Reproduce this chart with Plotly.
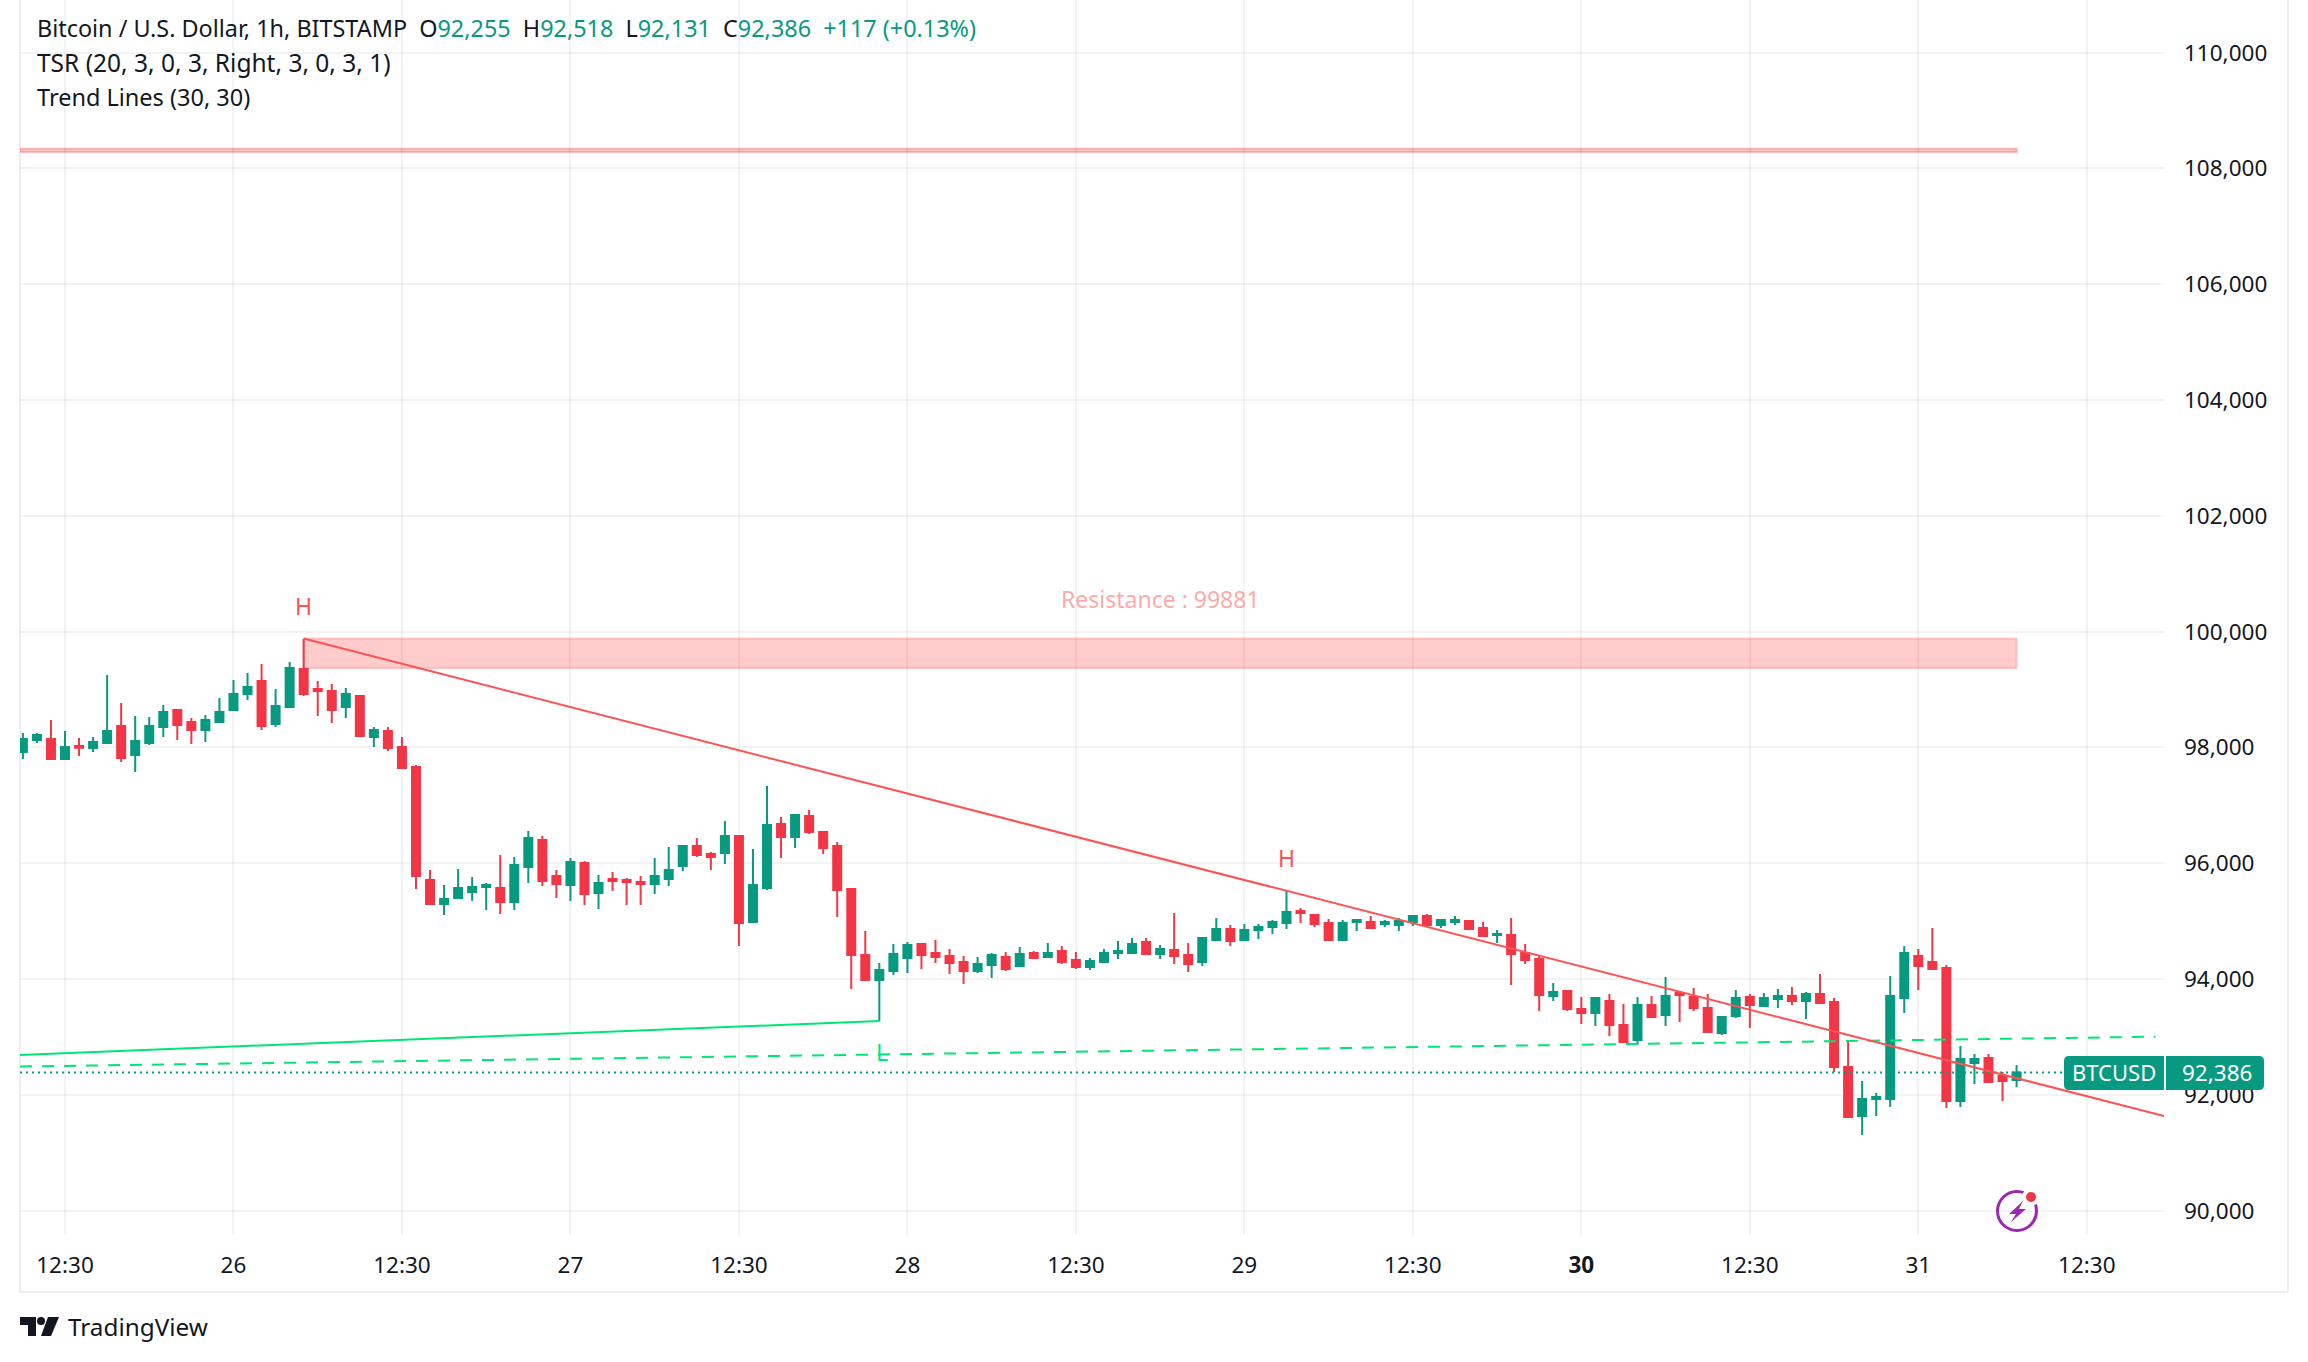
import plotly.graph_objects as go

bar_index = list(range(-3, 140))
open_ = [97922,98129,98146,97801,98025,97991,98077,98371,97870,98077,98354,98647,98440,98302,98440,98647,98923,99148,98405,98699,99355,99010,98975,98699,98889,98181,98284,98008,97663,95711,
95297,95400,95504,95590,95573,95331,95936,96402,95781,95625,96005,95487,95729,95712,95677,95642,95729,95953,96299,96160,96178,96471,94986,95573,96679,96454,96817,96540,96299,95556,
94416,93984,94140,94364,94606,94451,94399,94295,94140,94243,94382,94227,94451,94382,94486,94330,94210,94296,94451,94451,94641,94434,94503,94417,94296,94676,94866,94676,94849,94900,
94969,95177,95108,94969,94676,94987,94987,94952,94935,94987,95090,94935,94987,95004,94883,94762,94762,94451,94348,93709,93795,93484,93415,93622,93208,92949,93553,93380,93760,93691,
93501,93070,93363,93691,93536,93657,93709,93622,93743,93605,92482,91636,91930,91930,93674,94399,94296,94192,91895,92551,92638,92327,92255]
high = [98250,98250,98474,98284,98164,98181,99252,98768,98544,98526,98734,98647,98509,98561,98854,99165,99286,99442,99010,99476,99873,99148,99096,99027,98889,98354,98354,98181,97697,95884,
95625,95901,95763,95659,96143,96109,96558,96471,95884,96091,96040,95798,95850,95746,95781,96091,96281,96299,96437,96195,96730,96471,96247,97335,96800,96834,96920,96558,96368,95573,
94831,94278,94606,94641,94606,94675,94520,94399,94382,94451,94469,94555,94486,94624,94572,94469,94365,94520,94659,94710,94710,94590,95142,94624,94728,95056,94935,94952,94952,95021,
95522,95229,95108,95039,95021,95039,95090,95021,95056,95090,95125,95039,95090,95021,94987,94849,95056,94607,94399,93933,93795,93691,93674,93743,93570,93691,93709,94037,93778,93847,
93743,93363,93812,93743,93760,93829,93864,93778,94088,93674,92931,92240,92033,94054,94572,94520,94883,94244,92845,92707,92707,92396,92518]
low = [97801,98077,97801,97801,97853,97922,98077,97749,97576,98043,98181,98129,98060,98095,98440,98647,98820,98302,98354,98699,98889,98544,98423,98509,98181,98008,97939,97645,95556,95297,
95107,95400,95348,95193,95124,95193,95660,95608,95401,95349,95280,95211,95521,95280,95280,95470,95608,95867,96109,95884,95988,94571,94986,95539,96091,96264,96506,96160,95072,93829,
93967,93276,94071,94105,94174,94278,94088,93915,94105,94019,94140,94227,94365,94382,94261,94175,94158,94296,94348,94451,94434,94348,94261,94123,94227,94659,94572,94676,94693,94780,
94866,94969,94900,94676,94676,94831,94883,94900,94831,94918,94900,94883,94935,94866,94745,94624,93899,94261,93449,93622,93449,93225,93190,93018,92914,92862,93329,93190,93260,93449,
93087,93035,93329,93156,93536,93501,93553,93311,93588,92396,91619,91308,91636,91791,93415,93812,94175,91774,91791,92189,92206,91895,92131]
close = [98146,98215,97801,98008,97997,98095,98284,97818,98112,98371,98613,98388,98302,98474,98613,98923,99044,98371,98716,99373,98923,98975,98647,98923,98198,98302,97991,97645,95780,95297,
95383,95573,95590,95625,95331,95970,96437,95694,95642,96022,95470,95660,95694,95677,95642,95781,95884,96299,96143,96109,96471,94969,95625,96661,96454,96834,96540,96264,95539,94416,
93984,94157,94433,94589,94416,94382,94278,94140,94261,94416,94175,94434,94365,94451,94296,94210,94313,94451,94486,94607,94434,94520,94400,94261,94710,94866,94659,94849,94900,94987,
95160,95142,94952,94676,94969,95021,94883,94987,95004,95090,94935,95021,95021,94866,94745,94780,94434,94330,93726,93778,93484,93415,93674,93208,92914,93553,93346,93709,93726,93501,
93087,93346,93674,93553,93674,93709,93622,93743,93588,92482,91619,91930,91964,93709,94451,94227,94175,91895,92620,92620,92223,92240,92386]

tick_index = [0,12,24,36,48,60,72,84,96,108,120,132,144]
tick_text = ["12:30","26","12:30","27","12:30","28","12:30","29","12:30","<b>30</b>","12:30","31","12:30"]
price_ticks = list(range(90000, 110001, 2000))

resist_upper = [108340, 108285]
resist_band = [99881, 99368]
band_x = [-3.2, 139]
pivot_x = [17, 87]
trend_x = [17, 149.5]
trend_y = [99881, 91635]
support_x = [-3.2, 58]
support_y = [92690, 93276]
dash_x = [-3.2, 148.9]
dash_y = [92490, 93005]
last_close = 92386

W, H = 2308, 1362
L, R, T, B = 20, 2164, 0, 1235
FONT = "Noto Sans"
INK = "#131722"
GREEN = "#089981"
RED = "#f23645"
LINE_RED = "#ff5252"
LIME = "#00e676"
GRID = "rgba(42,46,57,0.06)"

def px(x): return (x - L) / (R - L)
def py(y): return 1 - (y - T) / (B - T)

def paper_path(pts, close_it=True):
    return "M " + " L ".join(f"{px(x):.5f},{py(y):.5f}" for x, y in pts) + (" Z" if close_it else "")

def rounded(x0, y0, x1, y1, r, left=True, right=True):
    rl = r if left else 0
    rr = r if right else 0
    return (f"M {px(x0+rl):.5f},{py(y0):.5f} L {px(x1-rr):.5f},{py(y0):.5f} "
            f"Q {px(x1):.5f},{py(y0):.5f} {px(x1):.5f},{py(y0+rr):.5f} L {px(x1):.5f},{py(y1-rr):.5f} "
            f"Q {px(x1):.5f},{py(y1):.5f} {px(x1-rr):.5f},{py(y1):.5f} L {px(x0+rl):.5f},{py(y1):.5f} "
            f"Q {px(x0):.5f},{py(y1):.5f} {px(x0):.5f},{py(y1-rl):.5f} L {px(x0):.5f},{py(y0+rl):.5f} "
            f"Q {px(x0):.5f},{py(y0):.5f} {px(x0+rl):.5f},{py(y0):.5f} Z")

fig = go.Figure()
fig.add_trace(go.Scatter(x=dash_x, y=dash_y, mode="lines", line=dict(color=LIME, width=2, dash="12px,10px"), showlegend=False, hoverinfo="skip"))
fig.add_trace(go.Scatter(x=[band_x[0], 144], y=[last_close, last_close], mode="lines", line=dict(color=GREEN, width=2, dash="2px,4px"), showlegend=False, hoverinfo="skip"))
fig.add_trace(go.Scatter(x=support_x, y=support_y, mode="lines", line=dict(color=LIME, width=2), showlegend=False, hoverinfo="skip"))
fig.add_trace(go.Candlestick(x=bar_index, open=open_, high=high, low=low, close=close,
    increasing=dict(line=dict(color=GREEN, width=2), fillcolor=GREEN),
    decreasing=dict(line=dict(color=RED, width=2), fillcolor=RED),
    whiskerwidth=0, showlegend=False))
fig.add_trace(go.Scatter(x=trend_x, y=trend_y, mode="lines", line=dict(color=LINE_RED, width=2), showlegend=False, hoverinfo="skip"))

shapes = [
    dict(type="rect", xref="x", yref="y", x0=band_x[0], x1=band_x[1], y0=resist_upper[0], y1=resist_upper[1],
         fillcolor="rgba(255,82,82,0.3)", line=dict(color="rgba(255,82,82,0.4)", width=2), layer="below"),
    dict(type="rect", xref="x", yref="y", x0=pivot_x[0], x1=band_x[1], y0=resist_band[0], y1=resist_band[1],
         fillcolor="rgba(255,82,82,0.3)", line=dict(color="rgba(255,82,82,0.25)", width=2), layer="below"),
    # frame
    dict(type="line", xref="paper", yref="paper", x0=px(20), x1=px(20), y0=py(0), y1=py(1292), line=dict(color="#eeeef4", width=2), layer="below"),
    dict(type="line", xref="paper", yref="paper", x0=px(20), x1=px(2288), y0=py(1292), y1=py(1292), line=dict(color="#eeeef4", width=2), layer="below"),
    dict(type="line", xref="paper", yref="paper", x0=px(2288), x1=px(2288), y0=py(0), y1=py(1292), line=dict(color="#eeeef4", width=2), layer="below"),
    # price tags
    dict(type="path", xref="paper", yref="paper", path=rounded(2064, 1056, 2164, 1090, 5, right=False), fillcolor=GREEN, line=dict(width=0)),
    dict(type="path", xref="paper", yref="paper", path=rounded(2166, 1056, 2264, 1090, 5, left=False), fillcolor=GREEN, line=dict(width=0)),
    # purple icon
    dict(type="circle", xref="paper", yref="paper", x0=px(1997.5), x1=px(2036.5), y0=py(1230.5), y1=py(1191.5), line=dict(color="#9c27b0", width=3), fillcolor="rgba(255,255,255,0)"),
    dict(type="path", xref="paper", yref="paper", path=paper_path([(2023,1201),(2009,1214),(2016,1214),(2011,1222),(2026,1209),(2019,1209)]), fillcolor="#9c27b0", line=dict(width=0)),
    dict(type="circle", xref="paper", yref="paper", x0=px(2022), x1=px(2040), y0=py(1206), y1=py(1188), fillcolor="#ffffff", line=dict(width=0)),
    dict(type="circle", xref="paper", yref="paper", x0=px(2026), x1=px(2036), y0=py(1202), y1=py(1192), fillcolor=RED, line=dict(width=0)),
    # logo
    dict(type="path", xref="paper", yref="paper", path=paper_path([(20,1317),(36,1317),(36,1336),(28,1336),(28,1325),(20,1325)]), fillcolor=INK, line=dict(width=0)),
    dict(type="circle", xref="paper", yref="paper", x0=px(37), x1=px(45), y0=py(1325), y1=py(1317), fillcolor=INK, line=dict(width=0)),
    dict(type="path", xref="paper", yref="paper", path=paper_path([(48,1317),(59,1317),(51,1336),(41,1336)]), fillcolor=INK, line=dict(width=0)),
]

G = GREEN
nb = "\u00a0"
line1 = (f"Bitcoin / U.S. Dollar, 1h, BITSTAMP{nb}{nb}O<span style='color:{G}'>92,255</span>{nb}{nb}H<span style='color:{G}'>92,518</span>"
         f"{nb}{nb}L<span style='color:{G}'>92,131</span>{nb}{nb}C<span style='color:{G}'>92,386</span>{nb}{nb}<span style='color:{G}'>+117 (+0.13%)</span>")

def note(text, x, y, size=20, color=INK, anchor="left", vanchor="middle", **kw):
    return dict(text=text, xref="paper", yref="paper", x=px(x), y=py(y), xanchor=anchor, yanchor=vanchor,
                showarrow=False, font=dict(family=FONT, size=size, color=color), **kw)

annotations = [
    note(line1, 35, 28, size=23.4),
    note("TSR (20, 3, 0, 3, Right, 3, 0, 3, 1)", 35, 63, size=24.5),
    note("Trend Lines (30, 30)", 35, 97, size=23.5),
    dict(text="H", xref="x", yref="y", x=pivot_x[0], y=99881, yshift=33, showarrow=False, font=dict(family=FONT, size=23, color=LINE_RED)),
    dict(text="H", xref="x", yref="y", x=pivot_x[1], y=95522, yshift=33, showarrow=False, font=dict(family=FONT, size=23, color=LINE_RED)),
    dict(text="L", xref="x", yref="y", x=58, y=92741, xshift=3, showarrow=False, font=dict(family=FONT, size=23, color=LIME)),
    dict(text="Resistance : 99881", xref="x", yref="y", x=78, y=99881, yshift=40, showarrow=False, font=dict(family=FONT, size=23, color="rgba(255,82,82,0.5)")),
    note("BTCUSD", 2114, 1072, color="#ffffff", anchor="center", size=22),
    note("92,386", 2217, 1072, color="#ffffff", anchor="center", size=22.5),
    note("TradingView", 66, 1326, size=24.3, color=INK),
]

fig.update_layout(
    width=W, height=H, autosize=False, margin=dict(l=L, r=W-R, t=T, b=H-B, pad=0),
    paper_bgcolor="#ffffff", plot_bgcolor="#ffffff", boxgap=0.43, boxgroupgap=0, showlegend=False,
    shapes=shapes, annotations=annotations, font=dict(family=FONT, color=INK),
    xaxis=dict(range=[-3.205, 149.5], rangeslider=dict(visible=False), tickmode="array", tickvals=tick_index, ticktext=tick_text,
               showgrid=True, gridcolor=GRID, gridwidth=2, zeroline=False, showline=False, ticks="", ticklabelstandoff=14,
               tickfont=dict(family=FONT, size=22.5, color=INK)),
    yaxis=dict(range=[89580, 110910], side="right", tickmode="array", tickvals=price_ticks, tickformat=",d",
               showgrid=True, gridcolor=GRID, gridwidth=2, zeroline=False, showline=False, ticks="", ticklabelstandoff=19,
               tickfont=dict(family=FONT, size=22.5, color=INK)),
)
for arr in (open_, high, low, close):
    assert len(arr) == len(bar_index), len(arr)
fig.write_html("out.html", config=dict(displayModeBar=False), post_script="document.body.style.margin='0';")
